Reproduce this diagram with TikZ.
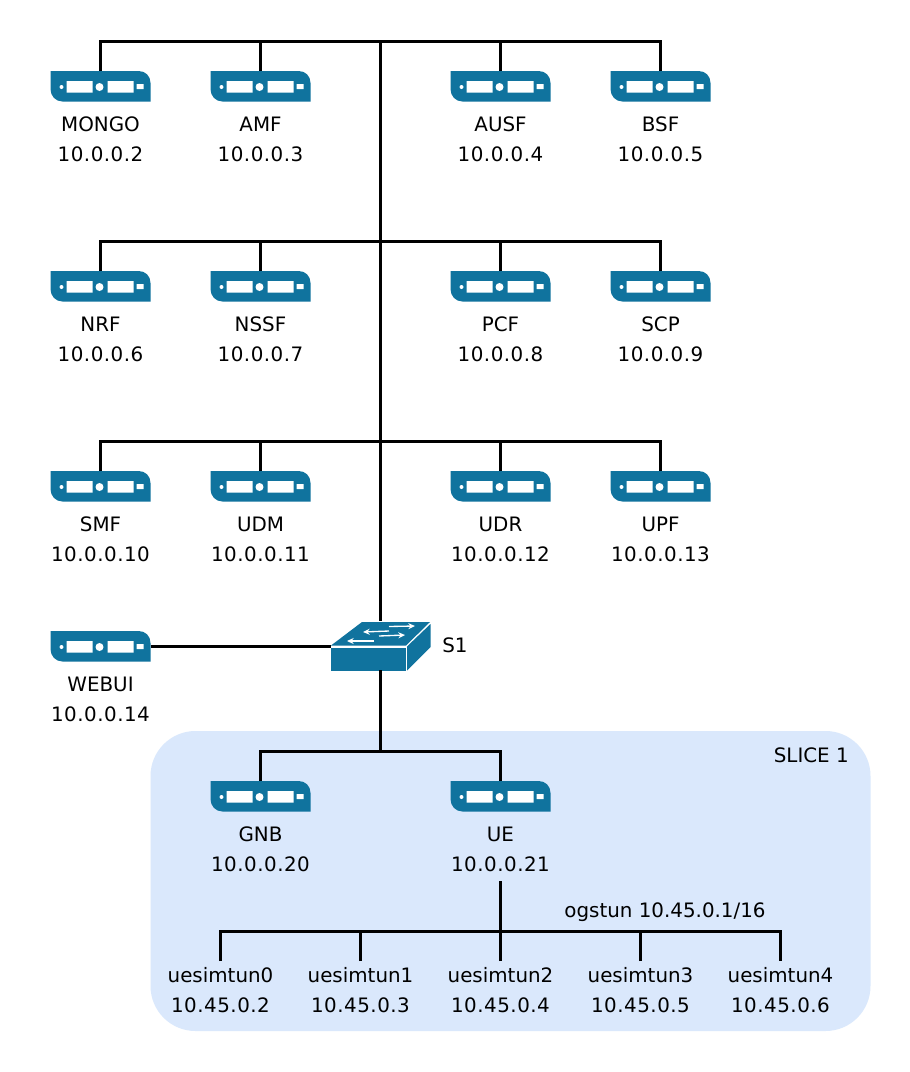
\documentclass[tikz,border=0pt]{standalone}
\usepackage{fontspec}
\setmainfont{DejaVu Sans}
\newfontface\ipfont{DejaVu Sans}[LetterSpace=2.5]
\usetikzlibrary{arrows.meta,calc}
\definecolor{srvblue}{HTML}{10739E}
\definecolor{slicebg}{HTML}{DAE8FC}
\tikzset{
  x=0.75pt,y=-0.75pt,
  wire/.style={line width=2.25pt,black},
  srvbox/.style={anchor=north west,minimum width=75pt,minimum height=23.25pt,inner sep=0pt,outer sep=0pt},
  lbl/.style={font=\fontsize{14.9pt}{22.5pt}\selectfont,align=center,inner sep=0pt,text=black},
  swarrow/.style={white,line width=1pt,-{Stealth[length=5pt,width=4.5pt]}},
}
\newcommand{\srv}[5]{%
  \node[srvbox] (#1) at (#2,#3) {};
  \begin{scope}[shift={(#2,#3)}]
    \fill[srvblue] (0,0) -- (88,0) .. controls (95,0) and (100,5) .. (100,12) -- (100,30.5) -- (12,30.5) .. controls (5,30.5) and (0,25) .. (0,18) -- cycle;
    \fill[white] (11,16) circle (2) (49,16) circle (4)
      (16,10) rectangle (42,21.5) (57,10) rectangle (83,21.5) (86,13) rectangle (93,18);
  \end{scope}
  \node[lbl] (#1-l) at ($(#2,#3)+(50,68)$) {#4\\{\ipfont\fontsize{14.9pt}{22.5pt}\selectfont #5}};
}
\newcommand{\tun}[4]{%
  \node[lbl] (#1) at (#2,990) {#3\\{\ipfont\fontsize{14.9pt}{22.5pt}\selectfont #4}};
  \coordinate (#1-t) at (#2,961);
}
\begin{document}
\begin{tikzpicture}
\useasboundingbox (0,0) rectangle (910,1072);
\fill[white] (0,0) rectangle (910,1072);
\node[fill=slicebg,rounded corners=33.75pt,anchor=north west,minimum width=540pt,minimum height=225pt,inner sep=0pt,outer sep=0pt] (slice) at (150.5,731) {};
\node[lbl,anchor=east] (slicel) at (849,755) {SLICE 1};

\srv{mongo}{50.5}{71}{MONGO}{10.0.0.2}
\srv{amf}{210.5}{71}{AMF}{10.0.0.3}
\srv{ausf}{450.5}{71}{AUSF}{10.0.0.4}
\srv{bsf}{610.5}{71}{BSF}{10.0.0.5}
\srv{nrf}{50.5}{271}{NRF}{10.0.0.6}
\srv{nssf}{210.5}{271}{NSSF}{10.0.0.7}
\srv{pcf}{450.5}{271}{PCF}{10.0.0.8}
\srv{scp}{610.5}{271}{SCP}{10.0.0.9}
\srv{smf}{50.5}{471}{SMF}{10.0.0.10}
\srv{udm}{210.5}{471}{UDM}{10.0.0.11}
\srv{udr}{450.5}{471}{UDR}{10.0.0.12}
\srv{upf}{610.5}{471}{UPF}{10.0.0.13}
\srv{webui}{50.5}{631}{WEBUI}{10.0.0.14}
\srv{gnb}{210.5}{781}{GNB}{10.0.0.20}
\srv{ue}{450.5}{781}{UE}{10.0.0.21}

% switch
\node[anchor=north west,minimum width=75pt,minimum height=37pt,inner sep=0pt,outer sep=0pt] (s1) at (331,621) {};
\fill[srvblue] (331,645.5) -- (362,622) -- (430,622) -- (406,645.5) -- cycle;
\fill[srvblue] (331,647.5) rectangle (405.5,670.5);
\fill[srvblue] (407,646.5) -- (430.5,624) -- (430.5,647) -- (407,670.5) -- cycle;
\draw[swarrow] (389,626.5) -- (415,626);
\draw[swarrow] (389,631) -- (363,632);
\draw[swarrow] (379,636) -- (405,635);
\draw[swarrow] (374,641) -- (347,641);
\node[lbl] (s1l) at (455,645) {S1};

% wires
\coordinate (b1) at (380.5,41.5);
\coordinate (b2) at (380.5,241);
\coordinate (b3) at (380.5,441);
\coordinate (b4) at (380.5,751);
\coordinate (b5) at (500.5,931);
\coordinate (uet) at (500.5,881);
\draw[wire] (b1) -- (b1 |- s1.north);
\foreach \bus/\a/\b/\c/\d in {b1/mongo/amf/ausf/bsf,b2/nrf/nssf/pcf/scp,b3/smf/udm/udr/upf}{
  \draw[wire] (\a.north) |- (\bus) -| (\d.north);
  \draw[wire] (\bus) -| (\b.north);
  \draw[wire] (\bus) -| (\c.north);
}
\draw[wire] (webui.east |- 0,646) -- (s1.west |- 0,646);
\draw[wire] (s1.south -| b4) -- (b4);
\draw[wire] (gnb.north) |- (b4) -| (ue.north);

\tun{t0}{220.5}{uesimtun0}{10.45.0.2}
\tun{t1}{360.5}{uesimtun1}{10.45.0.3}
\tun{t2}{500.5}{uesimtun2}{10.45.0.4}
\tun{t3}{640.5}{uesimtun3}{10.45.0.5}
\tun{t4}{780.5}{uesimtun4}{10.45.0.6}
\draw[wire] (uet) -- (b5);
\draw[wire] (t0-t) |- (b5) -| (t4-t);
\draw[wire] (t1-t) |- (b5);
\draw[wire] (t2-t) -- (b5);
\draw[wire] (t3-t) |- (b5);
\node[lbl] (og) at (665,912) {ogstun 10.45.0.1/16};
\end{tikzpicture}
\end{document}
